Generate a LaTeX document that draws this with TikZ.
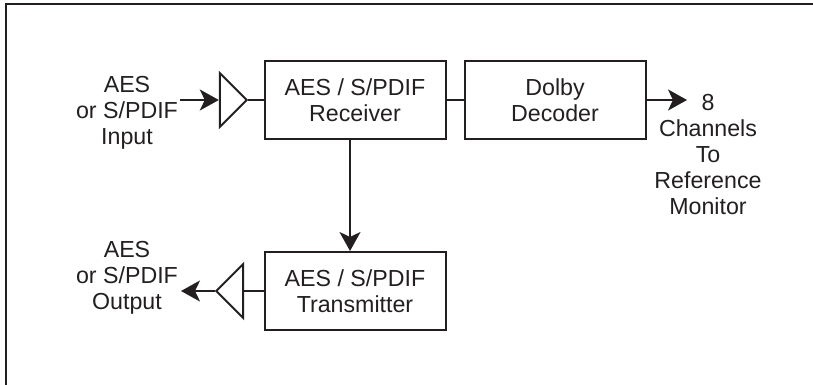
\documentclass[tikz,border=0pt]{standalone}
\usepackage{fontspec}
\setmainfont{Liberation Sans}
\usetikzlibrary{arrows.meta,shapes.geometric}
\definecolor{inkblack}{HTML}{231F20}
\tikzstyle{block}=[rectangle,draw=inkblack,line width=2pt,minimum width=181pt,minimum height=78pt,inner sep=0pt,text=inkblack,align=center,font=\fontsize{23.2}{26}\selectfont]
\tikzstyle{buffer}=[isosceles triangle,isosceles triangle apex angle=90,draw=inkblack,line width=2pt,minimum height=27pt,inner sep=0pt]
\tikzstyle{label}=[text=inkblack,align=center,font=\fontsize{23.2}{26}\selectfont]
\tikzstyle{wire}=[draw=inkblack,line width=2pt]
\tikzstyle{edge}=[wire,-{Stealth[length=19pt,width=21pt,inset=5pt]}]

\begin{document}
\begin{tikzpicture}[x=1pt,y=-1pt]
    \useasboundingbox (0,0) rectangle (813,385);
    % The open frame: only the top and left sides show
    \coordinate (frametop) at (813,4);
    \coordinate (framecorner) at (6,4);
    \coordinate (framebottom) at (6,385);
    \path[wire] (frametop) -- (framecorner) -- (framebottom);

    % First we draw the blocks
    \foreach \pos/\name/\txt in {{(355,100)/rx/{AES / S/PDIF\\Receiver}},
                                 {(555,100)/dec/{Dolby\\Decoder}},
                                 {(355,291)/tx/{AES / S/PDIF\\Transmitter}}}
        \node[block] (\name) at \pos {\txt};

    % The two buffers
    \node[buffer] (inbuf) at (231,100) {};
    \node[buffer,shape border rotate=180] (outbuf) at (232,291) {};

    % Outer texts
    \foreach \pos/\name/\txt in {{(127,112.5)/inlabel/{AES\\or S/PDIF\\Input}},
                                 {(127,277.5)/outlabel/{AES\\or S/PDIF\\Output}},
                                 {(708,154.5)/monlabel/{8\\Channels\\To\\Reference\\Monitor}}}
        \node[label] (\name) at \pos {\txt};

    % Free ends of the arrows
    \coordinate (instart) at (180,100);
    \coordinate (outend) at (181,291);
    \coordinate (monend) at (687,100);

    % Connect everything
    \path[edge] (instart) -- (inbuf.west |- instart);
    \path[wire] (inbuf.apex) -- (rx.west |- inbuf.apex);
    \path[wire] (rx.east) -- (dec.west);
    \path[edge] (dec.east) -- (monend);
    \path[edge] (rx.south -| 350,0) -- (tx.north -| 350,0);
    \path[wire] (tx.west) -- (outbuf.east);
    \path[edge] (outbuf.apex) -- (outend);
\end{tikzpicture}
\end{document}
